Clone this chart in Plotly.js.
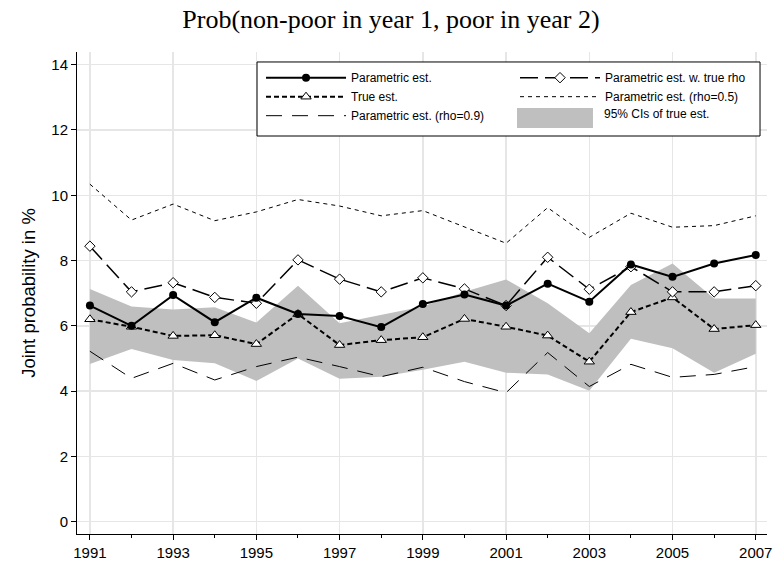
<!DOCTYPE html>
<html>
<head>
<meta charset="utf-8">
<script src="https://cdn.plot.ly/plotly-3.0.1.min.js"></script>
<style>html,body{margin:0;padding:0;background:#fff}#chart{width:782px;height:563px}</style>
</head>
<body>
<div id="chart"></div>
<script>
const years = [1991,1992,1993,1994,1995,1996,1997,1998,1999,2000,2001,2002,2003,2004,2005,2006,2007];
const parametricEst = [6.62,6.00,6.94,6.11,6.86,6.36,6.30,5.96,6.67,6.96,6.62,7.29,6.74,7.88,7.50,7.91,8.17];
const parametricTrueRho = [8.44,7.04,7.32,6.87,6.69,8.02,7.43,7.04,7.47,7.13,6.62,8.10,7.12,7.81,7.04,7.04,7.23];
const trueEst = [6.20,5.97,5.69,5.71,5.44,6.36,5.41,5.56,5.65,6.21,5.97,5.70,4.90,6.42,6.87,5.90,6.02];
const parametricRho05 = [10.34,9.24,9.73,9.22,9.49,9.87,9.67,9.37,9.53,9.04,8.53,9.62,8.71,9.45,9.02,9.07,9.37];
const parametricRho09 = [5.22,4.39,4.85,4.34,4.75,5.04,4.75,4.44,4.73,4.29,3.95,5.18,4.14,4.82,4.42,4.51,4.75];
const ciUpper = [7.13,6.59,6.50,6.57,6.10,7.23,6.08,6.33,6.59,7.04,7.42,6.69,5.77,7.25,7.91,6.84,6.84];
const ciLower = [4.83,5.29,4.95,4.85,4.31,5.00,4.38,4.44,4.65,4.90,4.56,4.51,4.01,5.60,5.31,4.56,5.14];
const yTicks = [0,2,4,6,8,10,12,14];
const xTicks = [1991,1993,1995,1997,1999,2001,2003,2005,2007];
const ciLabel = '95% CIs of true est.';

const bandX = years.concat(years.slice().reverse());
const bandY = ciUpper.concat(ciLower.slice().reverse());

const traces = [
  {x: bandX, y: bandY, type:'scatter', mode:'lines', fill:'toself', fillcolor:'#bfbfbf',
   line:{width:0,color:'#bfbfbf'}, name:ciLabel, showlegend:false, hoverinfo:'skip'},
  {x: years, y: parametricRho05, type:'scatter', mode:'lines', name:'Parametric est. (rho=0.5)',
   line:{color:'#000', width:1, dash:'4px,4px'}, legend:'legend2', legendrank:2},
  {x: years, y: parametricRho09, type:'scatter', mode:'lines', name:'Parametric est. (rho=0.9)',
   line:{color:'#000', width:1, dash:'16px,10px'}, legend:'legend', legendrank:3},
  {x: years, y: trueEst, type:'scatter', mode:'lines+markers', name:'True est.',
   line:{color:'#000', width:2, dash:'5px,3px'},
   marker:{symbol:'triangle-up', size:9, color:'#fff', line:{color:'#000', width:1}}, legend:'legend', legendrank:2},
  {x: years, y: parametricTrueRho, type:'scatter', mode:'lines+markers', name:'Parametric est. w. true rho',
   line:{color:'#000', width:1.5, dash:'18px,7px'},
   marker:{symbol:'diamond', size:8, color:'#fff', line:{color:'#000', width:1}}, legend:'legend2', legendrank:1},
  {x: years, y: parametricEst, type:'scatter', mode:'lines+markers', name:'Parametric est.',
   line:{color:'#000', width:2},
   marker:{symbol:'circle', size:8, color:'#000'}, legend:'legend', legendrank:1}
];

const legendCommon = {orientation:'v', xanchor:'left', yanchor:'top', bgcolor:'rgba(0,0,0,0)',
  borderwidth:0, traceorder:'normal', font:{size:12}, tracegroupgap:0, itemwidth:80};

const layout = {
  width:782, height:563,
  margin:{l:77, r:15, t:52, b:29},
  paper_bgcolor:'#fff', plot_bgcolor:'#fff',
  font:{family:'"Liberation Sans", Arial, sans-serif', color:'#000', size:13},
  title:{text:'Prob(non-poor in year 1, poor in year 2)', x:0.5, xanchor:'center', y:0.966, yanchor:'middle',
    font:{family:'"Liberation Serif", "Times New Roman", serif', size:26, color:'#000'}},
  xaxis:{range:[1990.69, 2007.27], tickvals:xTicks, ticktext:xTicks.map(String),
    showline:true, linecolor:'#000', linewidth:1, ticks:'outside', ticklen:5, tickcolor:'#000',
    showgrid:true, gridcolor:'#e6e6e6', gridwidth:1.5, zeroline:false,
    minor:{tickvals:[1992,1994,1996,1998,2000,2002,2004,2006], ticks:'outside', ticklen:3, tickcolor:'#000', showgrid:false},
    tickfont:{size:15}},
  yaxis:{range:[-0.38, 14.39], tickvals:yTicks, ticktext:yTicks.map(String),
    showline:true, linecolor:'#000', linewidth:1, ticks:'outside', ticklen:5, tickcolor:'#000',
    showgrid:true, gridcolor:'#e6e6e6', gridwidth:1.5, zeroline:false,
    title:{text:'Joint probability in %', font:{size:18.5}, standoff:10},
    tickfont:{size:15}},
  showlegend:true,
  legend:Object.assign({x:0.2667, y:0.9768}, legendCommon),
  legend2:Object.assign({x:0.6348, y:0.9768}, legendCommon),
  shapes:[
    {type:'rect', xref:'paper', yref:'paper', x0:0.2609, x1:0.9899, y0:0.8257, y1:0.9793,
     line:{color:'#000', width:1}, fillcolor:'#fff', layer:'above'},
    {type:'rect', xref:'paper', yref:'paper', x0:0.6377, x1:0.7478, y0:0.8423, y1:0.8838,
     line:{width:0}, fillcolor:'#bfbfbf', layer:'above'}
  ],
  annotations:[
    {text:ciLabel, xref:'paper', yref:'paper', x:0.7609, y:0.8714, xanchor:'left', yanchor:'middle',
     showarrow:false, font:{size:12, color:'#000'}}
  ]
};

Plotly.newPlot('chart', traces, layout, {displayModeBar:false, staticPlot:true});
</script>
</body>
</html>
